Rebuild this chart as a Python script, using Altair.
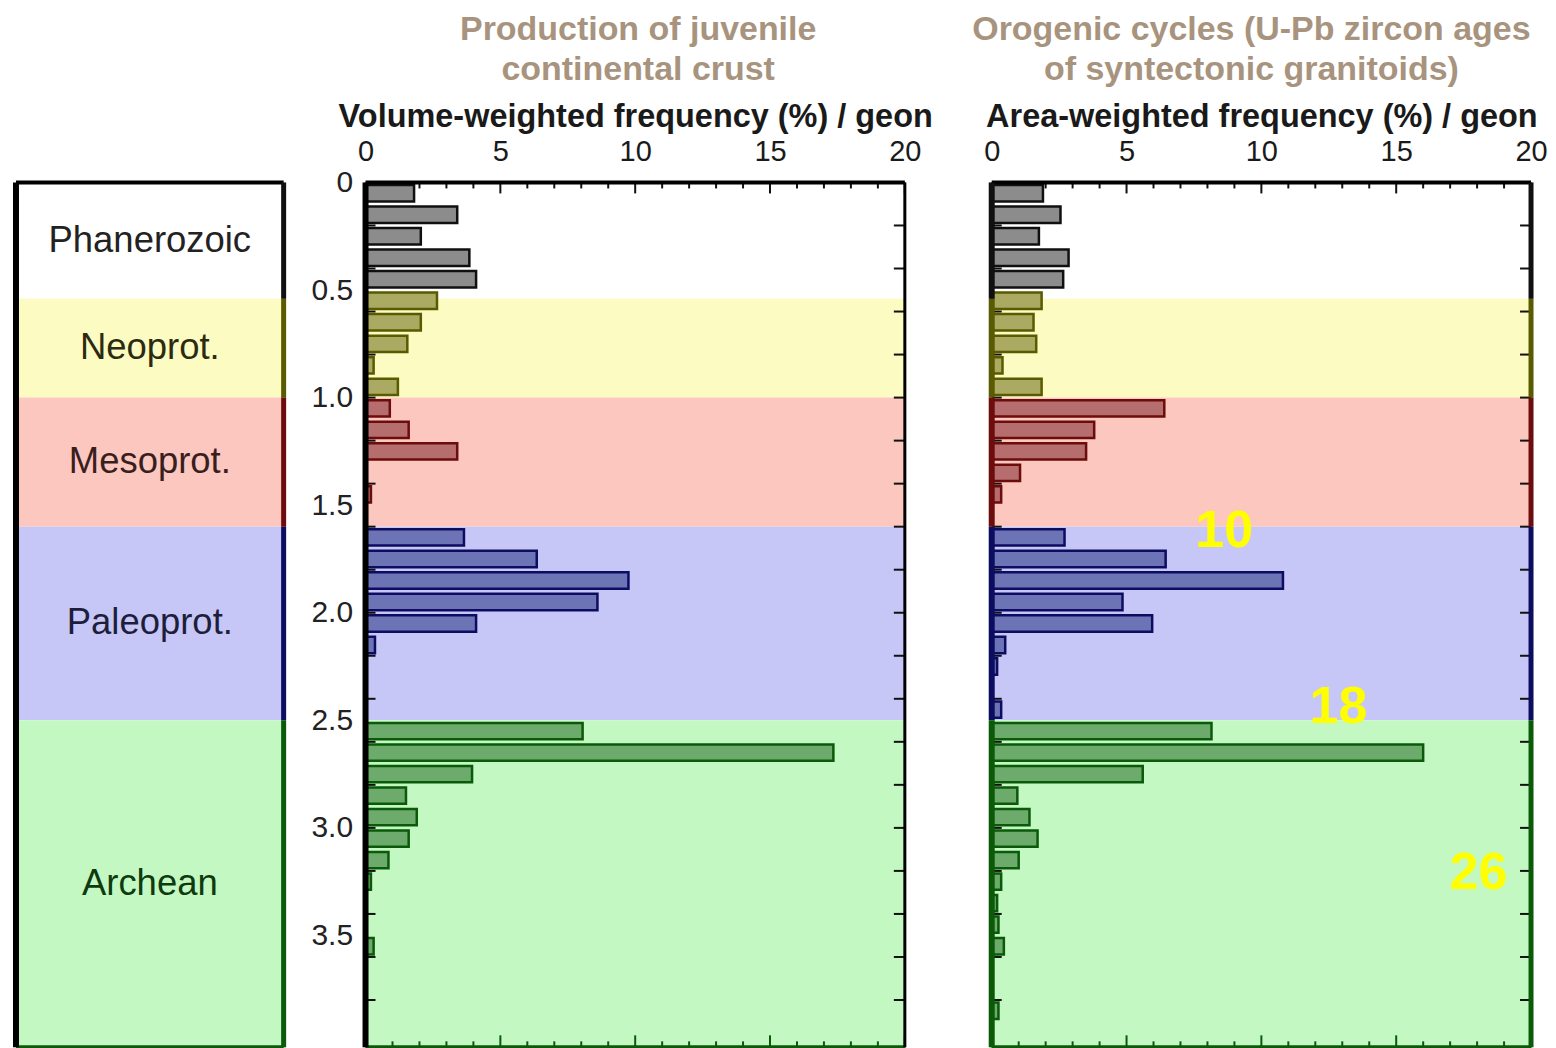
import altair as alt
import pandas as pd

# ---------------- data ----------------
era_names = ["Phanerozoic", "Neoprot.", "Mesoprot.", "Paleoprot.", "Archean"]
era_start = [0.0, 0.541, 1.0, 1.6, 2.5]
era_end = [0.541, 1.0, 1.6, 2.5, 4.02]

geon_start = [0.0, 0.1, 0.2, 0.3, 0.4, 0.5, 0.6, 0.7, 0.8, 0.9,
              1.0, 1.1, 1.2, 1.3, 1.4, 1.5, 1.6, 1.7, 1.8, 1.9,
              2.0, 2.1, 2.2, 2.3, 2.4, 2.5, 2.6, 2.7, 2.8, 2.9,
              3.0, 3.1, 3.2, 3.3, 3.4, 3.5, 3.6, 3.7, 3.8, 3.9]

# Volume-weighted frequency (%) of juvenile continental crust per geon
juvenile = [1.8, 3.4, 2.05, 3.85, 4.1, 2.65, 2.05, 1.55, 0.3, 1.2,
            0.9, 1.6, 3.4, 0.0, 0.2, 0.0, 3.65, 6.35, 9.75, 8.6,
            4.1, 0.35, 0.0, 0.0, 0.0, 8.05, 17.35, 3.95, 1.5, 1.9,
            1.6, 0.85, 0.2, 0.0, 0.0, 0.3, 0.0, 0.0, 0.0, 0.0]

# Area-weighted frequency (%) of orogenic granitoid ages per geon
orogenic = [1.9, 2.55, 1.75, 2.85, 2.65, 1.85, 1.55, 1.65, 0.4, 1.85,
            6.4, 3.8, 3.5, 1.05, 0.35, 0.0, 2.7, 6.45, 10.8, 4.85,
            5.95, 0.5, 0.2, 0.0, 0.35, 8.15, 16.0, 5.6, 0.95, 1.4,
            1.7, 1.0, 0.35, 0.2, 0.25, 0.45, 0.0, 0.0, 0.25, 0.0]

annot_text = ["10", "18", "26"]
annot_freq = [8.62, 12.86, 18.05]
annot_age = [1.62, 2.44, 3.21]

x_major = [0, 5, 10, 15, 20]
x_minor = [1, 2, 3, 4, 6, 7, 8, 9, 11, 12, 13, 14, 16, 17, 18, 19]
age_ticks = [0.2, 0.4, 0.6, 0.8, 1.0, 1.2, 1.4, 1.6, 1.8, 2.0,
             2.2, 2.4, 2.6, 2.8, 3.0, 3.2, 3.4, 3.6, 3.8]
age_labels = [0, 0.5, 1.0, 1.5, 2.0, 2.5, 3.0, 3.5]

# ---------------- styles ----------------
band_col = ["#ffffff", "#fcfbc2", "#fbc7bf", "#c6c7f6", "#c3f8c2"]
fill_col = ["#8c8c8c", "#abaa62", "#b56d6d", "#6d74b6", "#6dab6d"]
edge_col = ["#101010", "#5a5a00", "#6c0c0c", "#0c0c60", "#0a5a0a"]
text_col = ["#222222", "#2b2b12", "#3a1e1e", "#1e1e3c", "#0f3a0f"]

FONT = "Liberation Sans"
TITLE_COL = "#a8947e"
H = 866
W_LEG = 268
W_P = 540
Y_MAX = 4.02

eras = pd.DataFrame({
    "name": era_names, "start": era_start, "end": era_end,
    "band": band_col, "edge": edge_col, "tcol": text_col,
})
eras["mid"] = (eras["start"] + eras["end"]) / 2


def era_index(age):
    idx = 0
    for i, s in enumerate(era_start):
        if age >= s:
            idx = i
    return idx


def bar_frame(values):
    rows = []
    for s, v in zip(geon_start, values):
        e = era_index(s + 0.05)
        rows.append({"y0": s + 0.012, "y1": s + 0.088, "x0": 0.0, "value": v,
                     "fill": fill_col[e], "edge": edge_col[e]})
    return pd.DataFrame(rows)


YS = alt.Scale(domain=[0, Y_MAX], reverse=True, nice=False, zero=False)
XS = alt.Scale(domain=[0, 20], nice=False, zero=False)
one = pd.DataFrame({"a": [0]})


def frame_layers(width, sides):
    layers = []
    layers.append(alt.Chart(one).mark_rule(color="#000000", strokeWidth=4).encode(
        x=alt.value(0), x2=alt.value(width), y=alt.value(0)))
    layers.append(alt.Chart(one).mark_rule(color=edge_col[-1], strokeWidth=4).encode(
        x=alt.value(0), x2=alt.value(width), y=alt.value(H)))
    for side, colored, sw in sides:
        xpos = 0 if side == "left" else width
        if colored:
            layers.append(alt.Chart(eras).mark_rule(strokeWidth=sw).encode(
                x=alt.value(xpos),
                y=alt.Y("start:Q", scale=YS, axis=None), y2="end:Q",
                color=alt.Color("edge:N", scale=None)))
        else:
            layers.append(alt.Chart(one).mark_rule(color="#000000", strokeWidth=sw).encode(
                x=alt.value(xpos), y=alt.value(0), y2=alt.value(H)))
    return layers


# ---------------- era legend column ----------------
leg_bands = alt.Chart(eras).mark_rect().encode(
    x=alt.value(0), x2=alt.value(W_LEG),
    y=alt.Y("start:Q", scale=YS, axis=None), y2="end:Q",
    color=alt.Color("band:N", scale=None))
leg_text = alt.Chart(eras).mark_text(fontSize=36.5, font=FONT, baseline="middle", align="center").encode(
    x=alt.value(W_LEG / 2),
    y=alt.Y("mid:Q", scale=YS, axis=None),
    text="name:N",
    color=alt.Color("tcol:N", scale=None))
legend_col = alt.layer(
    leg_bands, leg_text,
    *frame_layers(W_LEG, [("left", False, 6), ("right", True, 5)])
).properties(width=W_LEG, height=H)


# ---------------- panels ----------------
def panel(values, axis_title, title_lines, title_dx, show_y, colored_edges, annotations=False):
    xax = alt.Axis(orient="top", values=x_major, ticks=False, domain=False, grid=False,
                   labelFontSize=29, labelFont=FONT, labelColor="#1a1a1a", labelPadding=16,
                   labelFlush=False, labelOverlap=False,
                   title=axis_title, titleFontSize=32.5, titleFont=FONT, titleFontWeight="bold",
                   titleColor="#1a1a1a", titlePadding=4)
    if show_y:
        yax = alt.Axis(values=age_labels, ticks=False, domain=False, grid=False,
                       labelFontSize=30, labelFont=FONT, labelColor="#222222", labelPadding=13,
                       labelExpr="datum.value == 0 ? '0' : format(datum.value, '.1f')",
                       title=None)
    else:
        yax = None

    bands = alt.Chart(eras).mark_rect().encode(
        x=alt.value(0), x2=alt.value(W_P),
        y=alt.Y("start:Q", scale=YS, axis=yax), y2="end:Q",
        color=alt.Color("band:N", scale=None))
    bars = alt.Chart(bar_frame(values)).transform_filter("datum.value > 0").mark_rect(strokeWidth=2.5).encode(
        x=alt.X("x0:Q", scale=XS, axis=xax), x2="value:Q",
        y=alt.Y("y0:Q", scale=YS, axis=yax), y2="y1:Q",
        fill=alt.Color("fill:N", scale=None),
        stroke=alt.Color("edge:N", scale=None))

    tdf_major = pd.DataFrame({"v": x_major})
    tdf_minor = pd.DataFrame({"v": x_minor})
    adf = pd.DataFrame({"age": age_ticks})
    ticks = [
        alt.Chart(tdf_major).mark_rule(color="#111111", strokeWidth=2).encode(
            x=alt.X("v:Q", scale=XS, axis=xax), y=alt.value(0), y2=alt.value(11)),
        alt.Chart(tdf_minor).mark_rule(color="#111111", strokeWidth=2).encode(
            x=alt.X("v:Q", scale=XS, axis=xax), y=alt.value(0), y2=alt.value(6)),
        alt.Chart(tdf_major).mark_rule(color=edge_col[-1], strokeWidth=2).encode(
            x=alt.X("v:Q", scale=XS, axis=xax), y=alt.value(H), y2=alt.value(H - 12)),
        alt.Chart(tdf_minor).mark_rule(color=edge_col[-1], strokeWidth=2).encode(
            x=alt.X("v:Q", scale=XS, axis=xax), y=alt.value(H), y2=alt.value(H - 6)),
        alt.Chart(adf).mark_rule(color="#111111", strokeWidth=2).encode(
            x=alt.value(W_P - 11), x2=alt.value(W_P),
            y=alt.Y("age:Q", scale=YS, axis=yax)),
        alt.Chart(adf).mark_rule(color="#111111", strokeWidth=2).encode(
            x=alt.value(0), x2=alt.value(10),
            y=alt.Y("age:Q", scale=YS, axis=yax)),
    ]
    layers = [bands] + ticks + [bars]
    if colored_edges:
        layers += frame_layers(W_P, [("left", True, 6), ("right", True, 5)])
    else:
        layers += frame_layers(W_P, [("left", False, 6), ("right", False, 3)])
    if annotations:
        ndf = pd.DataFrame({"t": annot_text, "f": annot_freq, "age": annot_age})
        layers.append(alt.Chart(ndf).mark_text(fontSize=52, fontWeight="bold", font=FONT,
                                               color="#ffff00", baseline="middle", align="center").encode(
            x=alt.X("f:Q", scale=XS, axis=xax),
            y=alt.Y("age:Q", scale=YS, axis=yax),
            text="t:N"))
    return alt.layer(*layers).properties(
        width=W_P, height=H,
        title=alt.Title(title_lines, fontSize=34, font=FONT, fontWeight="bold", color=TITLE_COL,
                        lineHeight=40, anchor="middle", offset=14, dx=title_dx))


left = panel(juvenile, "Volume-weighted frequency (%) / geon",
             ["Production of juvenile", "continental crust"], 3, True, False)
right = panel(orogenic, "Area-weighted frequency (%) / geon",
              ["Orogenic cycles (U-Pb zircon ages", "of syntectonic granitoids)"], -10, False, True,
              annotations=True)

panels = alt.hconcat(left, right, spacing=87, bounds="flush")
chart = alt.hconcat(legend_col, panels, spacing=82, bounds="flush").properties(
    padding={"left": 4, "top": 3, "right": 0, "bottom": 0}
).configure_view(stroke=None).configure(font=FONT)

chart.save("out.html", embed_options={"renderer": "svg", "actions": False})
